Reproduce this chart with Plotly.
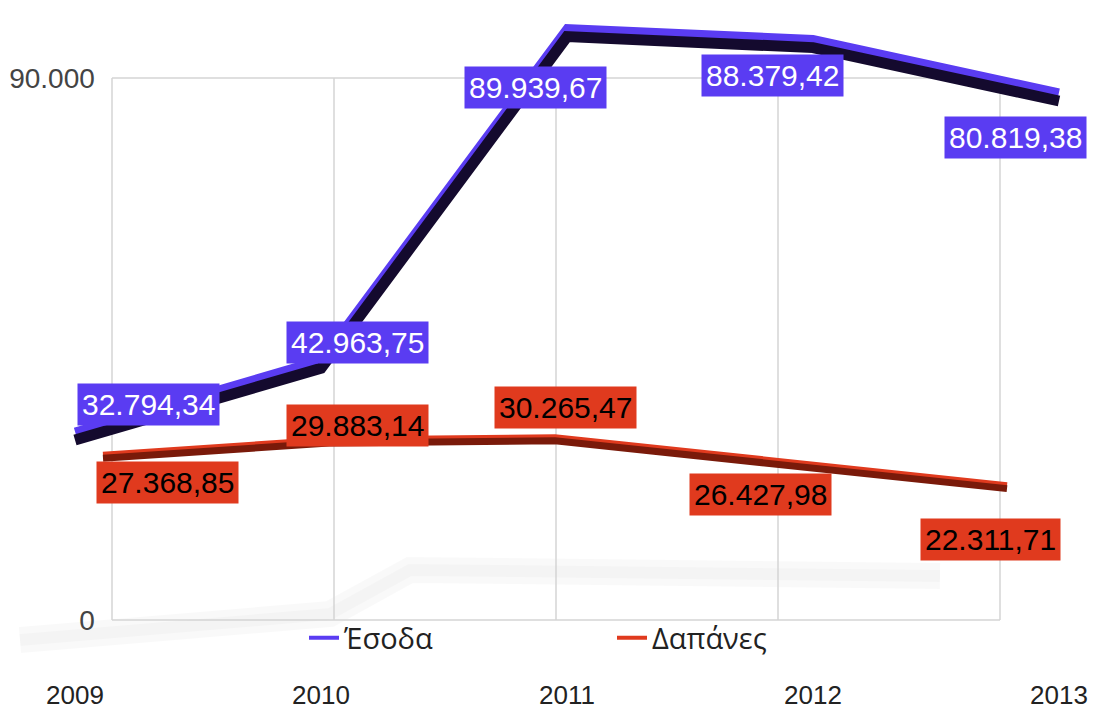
import plotly.graph_objects as go

years = ["2009", "2010", "2011", "2012", "2013"]
esoda = [32794.34, 42963.75, 89939.67, 88379.42, 80819.38]
dapanes = [27368.85, 29883.14, 30265.47, 26427.98, 22311.71]
esoda_labels = ["32.794,34", "42.963,75", "89.939,67", "88.379,42", "80.819,38"]
dapanes_labels = ["27.368,85", "29.883,14", "30.265,47", "26.427,98", "22.311,71"]
y_ticks = [0, 90000]
y_ticktext = ["0", "90.000"]

# label offsets (pixels) relative to each point
esoda_off = [(73, 27), (36, 17), (-32, -59), (-41, -36), (-44, -45)]
dapanes_off = [(64, -27), (28, 15), (10, 30), (-21, -34), (-17, -54)]

# faint floor reflection (decoration), in pixel positions
floor_px = [(20, 640), (330, 614), (410, 570), (940, 576)]

BLUE = "#5a3cf2"
BLUE_DARK = "#140a2e"
RED = "#e03a1e"
RED_DARK = "#7a1a0a"
GRID = "#d4d4d4"
FONT = "Liberation Sans, Arial, sans-serif"
W, H = 1096, 709

idx = list(range(len(years)))

fig = go.Figure()

fig.add_trace(go.Scatter(x=idx, y=esoda, xaxis="x", yaxis="y4", mode="lines",
                         line=dict(color=BLUE_DARK, width=11), showlegend=False, hoverinfo="skip"))
fig.add_trace(go.Scatter(x=idx, y=esoda, xaxis="x", yaxis="y3", mode="lines",
                         line=dict(color=BLUE, width=8), showlegend=False))
fig.add_trace(go.Scatter(x=idx, y=dapanes, xaxis="x3", yaxis="y5", mode="lines",
                         line=dict(color=RED_DARK, width=7), showlegend=False, hoverinfo="skip"))
fig.add_trace(go.Scatter(x=idx, y=dapanes, xaxis="x3", yaxis="y", mode="lines",
                         line=dict(color=RED, width=7), showlegend=False))

fig.add_trace(go.Scatter(x=[None], y=[None], xaxis="x", yaxis="y", mode="lines",
                         line=dict(color=BLUE, width=4), name="Έσοδα"))
fig.add_trace(go.Scatter(x=[None], y=[None], xaxis="x", yaxis="y", mode="lines",
                         line=dict(color=RED, width=4), name="Δαπάνες"))

shapes = []
path = "M " + " L ".join(f"{px / W:.4f} {1 - py / H:.4f}" for px, py in floor_px)
shapes.append(dict(type="path", xref="paper", yref="paper", path=path,
                   line=dict(color="rgba(0,0,0,0.022)", width=26), layer="below"))
shapes.append(dict(type="path", xref="paper", yref="paper", path=path,
                   line=dict(color="rgba(0,0,0,0.02)", width=12), layer="below"))
for i in idx:
    shapes.append(dict(type="line", xref="x2", yref="y", x0=i, x1=i, y0=y_ticks[0], y1=y_ticks[-1],
                       line=dict(color=GRID, width=1.5), layer="below"))
for v in y_ticks:
    shapes.append(dict(type="line", xref="x2", yref="y", x0=idx[0], x1=idx[-1], y0=v, y1=v,
                       line=dict(color=GRID, width=1.5), layer="below"))

annotations = []
for i, (v, t, (dx, dy)) in enumerate(zip(esoda, esoda_labels, esoda_off)):
    annotations.append(dict(x=i, y=v, xref="x", yref="y3", text=t, showarrow=False,
                            xshift=dx, yshift=dy, bgcolor=BLUE, borderpad=4,
                            font=dict(family=FONT, size=30, color="white")))
for i, (v, t, (dx, dy)) in enumerate(zip(dapanes, dapanes_labels, dapanes_off)):
    annotations.append(dict(x=i, y=v, xref="x3", yref="y", text=t, showarrow=False,
                            xshift=dx, yshift=dy, bgcolor=RED, borderpad=4,
                            font=dict(family=FONT, size=30, color="black")))

hidden = dict(visible=False, showgrid=False, zeroline=False)

fig.update_layout(
    width=W, height=H,
    margin=dict(l=0, r=0, t=0, b=0),
    paper_bgcolor="white", plot_bgcolor="rgba(0,0,0,0)",
    font=dict(family=FONT),
    xaxis=dict(domain=[0, 1], range=[-0.30488, 4.15041], tickvals=idx, ticktext=years,
               showgrid=False, zeroline=False, showline=False, ticks="",
               anchor="free", position=0.045,
               tickfont=dict(size=26, color="#222", family=FONT)),
    xaxis2=dict(overlaying="x", range=[-0.50450, 4.43243], **hidden),
    xaxis3=dict(overlaying="x", range=[-0.45575, 4.39381], **hidden),
    yaxis=dict(domain=[0, 1], range=[-14779, 102952], tickvals=y_ticks, ticktext=y_ticktext,
               showgrid=False, zeroline=False, showline=False, ticks="",
               anchor="free", position=0.0865,
               tickfont=dict(size=28, color="#444", family=FONT)),
    yaxis3=dict(overlaying="y", range=[-6516, 93909], **hidden),
    yaxis4=dict(overlaying="y", range=[-5299, 95126], **hidden),
    yaxis5=dict(overlaying="y", range=[-14281, 103450], **hidden),
    showlegend=True,
    legend=dict(orientation="h", x=304 / W, xanchor="left", y=1 - 638 / H, yanchor="middle",
                font=dict(size=29, color="#222", family="Open Sans, Noto Sans, sans-serif"),
                entrywidth=263, bgcolor="rgba(0,0,0,0)"),
    shapes=shapes,
    annotations=annotations,
)

fig.write_html("out.html", config={"displayModeBar": False},
               post_script="document.body.style.margin='0';document.body.style.padding='0';")
